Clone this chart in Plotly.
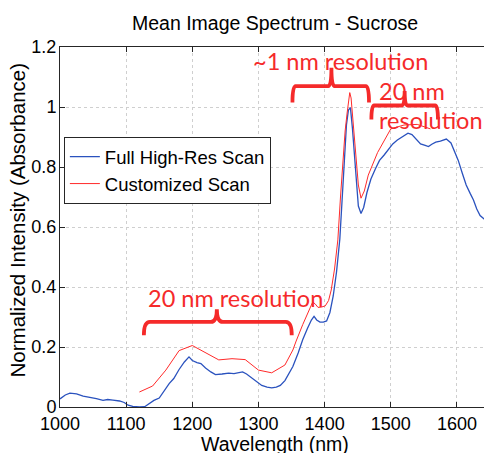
import plotly.graph_objects as go

# Full high-resolution scan (blue)
full_wl = [1000, 1008, 1015, 1025, 1035, 1045, 1055, 1065, 1072, 1080, 1090, 1097, 1103, 1110,
           1120, 1128, 1135, 1142, 1150, 1158, 1165, 1172, 1180, 1188, 1195, 1200, 1207, 1213,
           1220, 1228, 1235, 1245, 1255, 1263, 1270, 1276, 1282, 1290, 1297, 1305, 1313, 1320,
           1327, 1333, 1340, 1346, 1352, 1360, 1367, 1374, 1380, 1384, 1388, 1393, 1398, 1403,
           1408, 1413, 1418, 1423, 1428, 1433, 1436, 1439, 1442, 1445, 1448, 1451, 1455, 1459,
           1464, 1470, 1477, 1483, 1490, 1497, 1503, 1510, 1518, 1526, 1532, 1538, 1545, 1552,
           1557, 1562, 1568, 1575, 1584, 1591, 1597, 1602, 1608, 1614, 1620, 1625, 1630, 1635,
           1642, 1650]
full_val = [0.027, 0.040, 0.046, 0.044, 0.036, 0.033, 0.028, 0.022, 0.025, 0.023, 0.020, 0.015, 0.006, 0.002,
            0.000, 0.001, 0.012, 0.022, 0.030, 0.058, 0.078, 0.095, 0.125, 0.150, 0.167, 0.155, 0.148, 0.145,
            0.130, 0.117, 0.108, 0.110, 0.113, 0.111, 0.115, 0.117, 0.110, 0.096, 0.083, 0.072, 0.066, 0.064,
            0.066, 0.072, 0.088, 0.110, 0.135, 0.180, 0.225, 0.262, 0.290, 0.302, 0.290, 0.283, 0.283, 0.287,
            0.315, 0.370, 0.450, 0.560, 0.770, 0.940, 0.990, 0.998, 0.930, 0.850, 0.740, 0.670, 0.645, 0.665,
            0.715, 0.760, 0.795, 0.822, 0.840, 0.860, 0.877, 0.890, 0.903, 0.913, 0.908, 0.895, 0.877, 0.872,
            0.868, 0.876, 0.883, 0.886, 0.893, 0.880, 0.850, 0.822, 0.780, 0.740, 0.712, 0.690, 0.660, 0.638,
            0.625, 0.614]

# Customized scan (red)
cust_wl = [1120, 1140, 1160, 1180, 1200, 1220, 1240, 1260, 1280, 1300, 1320, 1340,
           1346, 1352, 1357, 1362, 1367, 1372, 1377, 1382, 1386, 1390, 1395, 1401, 1406, 1410,
           1415, 1420, 1424, 1428, 1431, 1434, 1436, 1438, 1440, 1442, 1444, 1447, 1451, 1455,
           1460, 1466, 1480, 1500, 1520, 1540, 1560]
cust_val = [0.050, 0.070, 0.123, 0.188, 0.205, 0.181, 0.157, 0.161, 0.158, 0.123, 0.114, 0.140,
            0.165, 0.190, 0.220, 0.251, 0.275, 0.300, 0.325, 0.350, 0.343, 0.332, 0.333, 0.337, 0.355, 0.390,
            0.460, 0.557, 0.700, 0.840, 0.920, 0.980, 1.020, 1.048, 1.030, 0.980, 0.920, 0.860, 0.740, 0.696,
            0.720, 0.773, 0.848, 0.927, 0.940, 0.942, 0.927]

x_ticks = [1000, 1100, 1200, 1300, 1400, 1500, 1600]
y_ticks = [0, 0.2, 0.4, 0.6, 0.8, 1.0, 1.2]

# Annotation texts: (text, wavelength, value)
notes = [("~1 nm resolution", 1424.3, 1.152),
         ("20 nm", 1531.6, 1.052),
         ("resolution", 1561.0, 0.958),
         ("20 nm resolution", 1265.8, 0.363)]
# Curly brackets: (left, centre, right, level, end level, tip level)
brackets = [(1126.8, 1237.1, 1350.3, 0.2836, 0.239, 0.326),
            (1351.4, 1410.3, 1467.1, 1.0696, 1.015, 1.131),
            (1470.7, 1521.0, 1571.3, 1.005, 0.958, 1.053)]

RED = "#f52a2a"
fig = go.Figure()
fig.add_trace(go.Scatter(x=full_wl, y=full_val, mode="lines", name="Full High-Res Scan",
                         line=dict(color="#2a52be", width=1.3)))
fig.add_trace(go.Scatter(x=cust_wl, y=cust_val, mode="lines", name="Customized Scan",
                         line=dict(color="#ff2a2a", width=1.0)))

for (x0, xc, x1, yh, ye, yt) in brackets:
    dx = (x1 - x0) * 0.04
    path = (f"M {x0},{ye} Q {x0},{yh} {x0+dx},{yh} L {xc-dx},{yh} Q {xc},{yh} {xc},{yt} "
            f"Q {xc},{yh} {xc+dx},{yh} L {x1-dx},{yh} Q {x1},{yh} {x1},{ye}")
    fig.add_shape(type="path", path=path, xref="x", yref="y",
                  line=dict(color=RED, width=3.8))

for (t, x, y) in notes:
    fig.add_annotation(text=t, x=x, y=y, xref="x", yref="y", showarrow=False,
                       xanchor="center", yanchor="middle",
                       font=dict(family="Lato", size=23.5, color=RED))

# axis titles
fig.add_annotation(text="Wavelength (nm)", x=0.5, y=-0.1028, xref="paper", yref="paper",
                   showarrow=False, xanchor="center", yanchor="middle",
                   font=dict(family="Liberation Sans", size=19.5, color="black"))
fig.add_annotation(text="Normalized Intensity (Absorbance)", x=-0.099, y=0.5194,
                   xref="paper", yref="paper", textangle=-90,
                   showarrow=False, xanchor="center", yanchor="middle",
                   font=dict(family="Liberation Sans", size=20.5, color="black"))

axis_common = dict(showline=True, linecolor="#262626", linewidth=1, mirror="allticks",
                   ticks="inside", ticklen=5, tickcolor="#262626", automargin=False,
                   showgrid=True, gridcolor="#cfcfcf", griddash="dot", gridwidth=1,
                   zeroline=False, tickfont=dict(family="Liberation Sans", size=18, color="black"))

# The page body adds an 8 px offset, so the figure is sized to fit inside it.
fig.update_layout(
    width=484, height=445,
    margin=dict(l=52, r=2, t=39, b=46, autoexpand=False),
    paper_bgcolor="white", plot_bgcolor="white",
    title=dict(text="Mean Image Spectrum - Sucrose", x=0.5517, xanchor="center",
               y=0.9663, yanchor="middle", yref="container", automargin=False,
               font=dict(family="Liberation Sans", size=19.5, color="black")),
    xaxis=dict(range=[1000, 1650], tickvals=x_ticks, ticklabelstandoff=0, **axis_common),
    yaxis=dict(range=[0, 1.2], tickvals=y_ticks, ticklabelstandoff=-1, **axis_common),
    legend=dict(x=0.009, y=0.75, xanchor="left", yanchor="top",
                bgcolor="white", bordercolor="#262626", borderwidth=1,
                font=dict(family="Liberation Sans", size=18.5, color="black"),
                tracegroupgap=0, itemwidth=30),
    showlegend=True,
)

fig.write_html("out.html")
